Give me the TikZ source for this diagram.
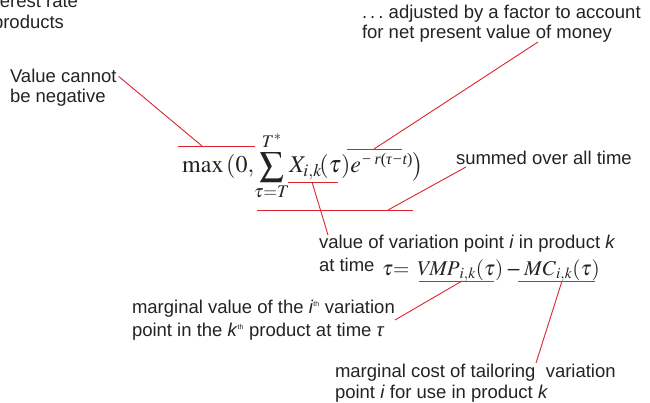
\documentclass[tikz,border=0pt]{standalone}
\usepackage{mathptmx}
\usepackage[no-math]{fontspec}
\setmainfont{Liberation Sans}
\newfontfamily\expfont{Liberation Serif}
\usetikzlibrary{calc}
\definecolor{ink}{RGB}{38,34,35}
\definecolor{lead}{RGB}{222,35,45}
\tikzset{
  lbl/.style={inner sep=0pt, outer sep=2pt, text=ink, anchor=base west, font=\fontsize{18.5}{21}\selectfont},
  frm/.style={inner sep=0pt, text=ink, anchor=base west},
  leader/.style={draw=lead, line width=0.9pt},
}
\begin{document}
\begin{tikzpicture}[x=1pt,y=-1pt]
\useasboundingbox (0,0) rectangle (650,403);
\clip (0,0) rectangle (650,403);

% clipped labels at top left
\node[lbl, anchor=base east] (ir1) at (80,8) {interest rate};
\node[lbl, anchor=base east] (ir2) at (66,29) {products};

% Value cannot be negative
\node[lbl] (vc1) at (8,83) {Value cannot};
\node[lbl] (vc2) at (8,103) {be negative};

% adjusted ...
\node[lbl] (adj1) at (360,19) {.\,.\,.\ adjusted by a factor to account};
\node[lbl] (adj2) at (360,39) {for net present value of money};

% summed
\node[lbl] (sum) at (454,165) {summed over all time};

% value of variation point
\node[lbl] (val1) at (317,248) {value of variation point \textit{i} in product \textit{k}};
\node[lbl] (val2) at (317,272) {at time};

% marginal value
\node[lbl] (mv1) at (130,313) {marginal value of the \textit{i}\textsuperscript{\scriptsize th} variation};
\node[lbl] (mv2) at (130,336) {point in the \textit{k}\textsuperscript{\scriptsize th} product at time \textit{τ}};

% marginal cost
\node[lbl] (mc1) at (333,377) {marginal cost of tailoring\ \ variation};
\node[lbl] (mc2) at (333,398) {point \textit{i} for use in product \textit{k}};

% main formula
\node[frm, font=\fontsize{24}{28}\selectfont] (F) at (182,173)
  {$\displaystyle \max\,(0,\!\sum_{\tau=T}^{T^*}\! X_{i,k}\!(\tau)e\raisebox{8pt}{\fontsize{16}{16}\expfont\itshape −\,r{\upshape(}τ−t{\upshape)}}\bigr)$};

% lower formula
\node[frm, font=\fontsize{21}{25}\selectfont] (G) at (382,275)
  {$\tau\!\!=\,\mathit{VMP}_{i,k}(\tau)\;\mbox{–}\;\mathit{MC}_{i,k}(\tau)$};

% coordinates for underlines / leader ends
\coordinate (u1a) at (178,146); \coordinate (u1b) at (255,146); \coordinate (u1m) at (202,146);
\coordinate (u2a) at (347,149); \coordinate (u2b) at (402,149); \coordinate (u2m) at (374,149);
\coordinate (u3a) at (288,182); \coordinate (u3b) at (338,182); \coordinate (u3m) at (312,182);
\coordinate (u4a) at (257,210); \coordinate (u4b) at (413,210); \coordinate (u4m) at (388,210);
\coordinate (u5a) at (419,281); \coordinate (u5b) at (494,281); \coordinate (u5m) at (462,281);
\coordinate (u6a) at (518,281); \coordinate (u6b) at (595,281); \coordinate (u6m) at (562,281);
\coordinate (eadj) at (538,42);
\coordinate (esum) at (466,167);
\coordinate (eval) at (328,235);
\coordinate (emv) at (395,320);
\coordinate (emc) at (536,363);

\draw[leader] (u1a) -- (u1b);
\draw[leader] (u2a) -- (u2b);
\draw[leader] (u3a) -- (u3b);
\draw[leader] (u4a) -- (u4b);
\draw[leader] (u5a) -- (u5b);
\draw[leader] (u6a) -- (u6b);

\draw[leader] (vc1.east) -- (u1m);
\draw[leader] (eadj) -- (u2m);
\draw[leader] (u3m) -- (eval);
\draw[leader] (esum) -- (u4m);
\draw[leader] (u5m) -- (emv);
\draw[leader] (u6m) -- (emc);
\end{tikzpicture}
\end{document}
